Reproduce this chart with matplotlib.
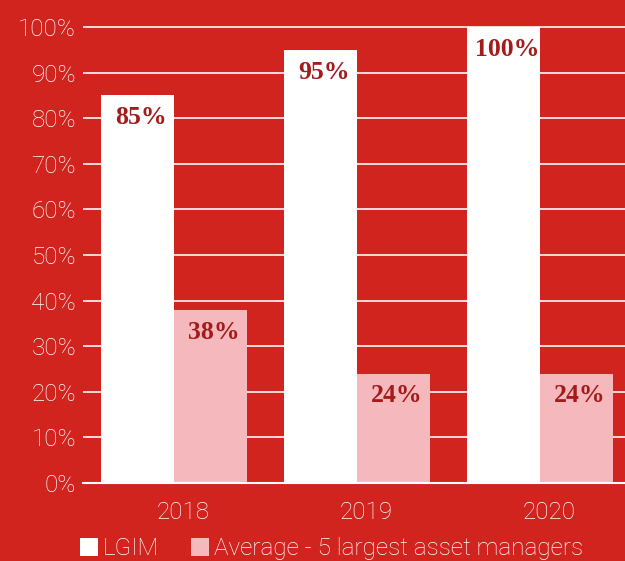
import numpy as np
import matplotlib.pyplot as plt
from matplotlib.patches import Patch

years = ['2018', '2019', '2020']
lgim = [85, 95, 100]
avg5 = [38, 24, 24]
series_names = ['LGIM', 'Average - 5 largest asset managers']

bg = '#d1241f'
pink = '#f5b9bd'
lab_col = '#a31b1b'

fig = plt.figure(figsize=(6.25, 5.61), dpi=100, facecolor=bg)
ax = fig.add_axes([0.1328, 0.139, 0.8672, 0.821])
ax.set_facecolor(bg)

x = np.arange(len(years))
w = 0.4
b1 = ax.bar(x - w / 2, lgim, w, color='white', zorder=3)
b2 = ax.bar(x + w / 2, avg5, w, color=pink, zorder=3)

for bars, vals in ((b1, lgim), (b2, avg5)):
    for r, v in zip(bars, vals):
        ax.text(r.get_x() + r.get_width() / 2 + 0.02, v - 4.9, f'{v}%',
                ha='center', va='center', fontsize=18.5, fontweight='bold',
                family='Liberation Serif', color=lab_col, zorder=4)

ax.set_ylim(0, 101)
ax.set_xlim(-0.497, 2.465)
ax.set_yticks(range(0, 101, 10))
ax.set_yticklabels([f'{v}%' for v in range(0, 101, 10)])
ax.set_xticks(x + 0.05)
ax.set_xticklabels(years)
ax.tick_params(length=0, colors='white', labelsize=17.5)
ax.tick_params(axis='y', pad=5)
ax.tick_params(axis='x', pad=13)
for t in ax.get_xticklabels() + ax.get_yticklabels():
    t.set_family('Roboto')
    t.set_fontweight('light')

ax.grid(axis='y', color='white', linewidth=1.3, alpha=0.9, zorder=1)
for s in ['top', 'right', 'left']:
    ax.spines[s].set_visible(False)
ax.spines['bottom'].set_color('white')
ax.spines['bottom'].set_linewidth(1.5)
ax.spines['bottom'].set_zorder(5)

handles = [Patch(facecolor='white'), Patch(facecolor=pink)]
leg = fig.legend(handles, series_names, loc='center left',
                 bbox_to_anchor=(0.128, 0.022), ncol=2, frameon=False,
                 handlelength=0.75, handleheight=0.75, handletextpad=0.2,
                 columnspacing=1.3, borderaxespad=0, borderpad=0,
                 prop={'family': 'Roboto', 'weight': 'light', 'size': 17.5})
for t in leg.get_texts():
    t.set_color('white')

fig.savefig('out.png', dpi=100, facecolor=bg)
